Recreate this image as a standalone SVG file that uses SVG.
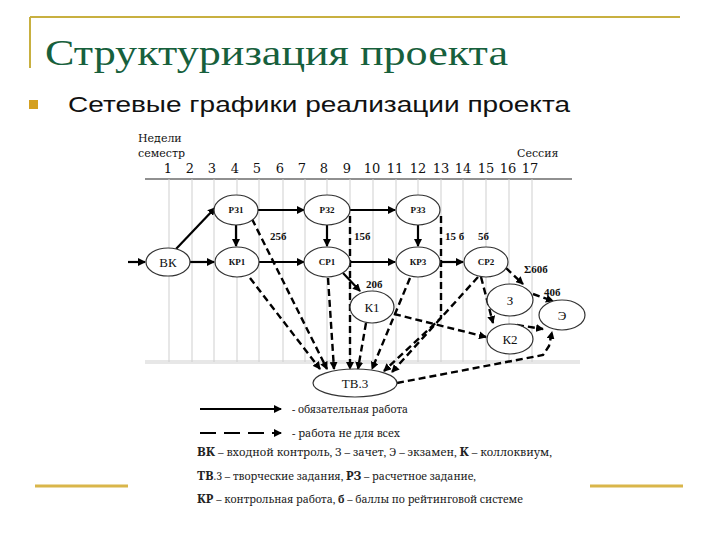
<svg xmlns="http://www.w3.org/2000/svg" width="720" height="540" viewBox="0 0 720 540">
<defs>
<style>
.grid{stroke:#cfcfcf;stroke-width:1}
.e{fill:#fff;stroke:#333;stroke-width:1.2}
.s{fill:none;stroke:#000;stroke-width:2.2}
.d{fill:none;stroke:#000;stroke-width:2.4;stroke-dasharray:7 4}
.t{font-family:"DejaVu Serif",serif;fill:#111}
.nb{font-family:"Liberation Serif",serif;font-weight:bold;font-size:9px;fill:#111}
.nn{font-family:"Liberation Serif",serif;font-size:13px;fill:#111}
.lb{font-family:"Liberation Serif",serif;font-weight:bold;font-size:11px;fill:#111}
.lg{font-family:"Noto Serif","Liberation Serif",serif;font-size:10.5px;fill:#222}
.deco{stroke:#d9b64a;stroke-width:3}
</style>
<marker id="a" markerWidth="8" markerHeight="8" refX="7" refY="4" orient="auto" markerUnits="userSpaceOnUse"><path d="M0,0 L8,4 L0,8 z" fill="#000"/></marker>
</defs>

<g id="frame">
<line x1="30" y1="17" x2="680" y2="17" stroke="#c8b040" stroke-width="2"/>
<line x1="30" y1="17" x2="30" y2="68" stroke="#c8b040" stroke-width="2"/>
<line class="deco" x1="35" y1="486" x2="128" y2="486"/>
<line class="deco" x1="590" y1="486" x2="683" y2="486"/>
</g>

<g id="title">
<text x="45" y="65" style="font-family:'Liberation Serif',serif;font-size:36px" fill="#17603c" textLength="463" lengthAdjust="spacingAndGlyphs">Структуризация проекта</text>
<rect x="29" y="100" width="9" height="9" fill="#d4a020"/>
<text x="68" y="112" font-family="Liberation Sans,Arial,sans-serif" font-size="22" fill="#111" textLength="502" lengthAdjust="spacingAndGlyphs">Сетевые графики реализации проекта</text>
</g>

<g id="scale">
<text class="t" x="138" y="142" font-size="11">Недели</text>
<text class="t" x="138" y="157" font-size="11">семестр</text>
<text class="t" x="517" y="157" font-size="11">Сессия</text>
<g class="t" font-size="13" text-anchor="middle">
<text x="168" y="173">1</text><text x="190" y="173">2</text><text x="212" y="173">3</text><text x="235" y="173">4</text><text x="257" y="173">5</text><text x="280" y="173">6</text><text x="302" y="173">7</text><text x="324" y="173">8</text><text x="347" y="173">9</text><text x="372" y="173">10</text><text x="395" y="173">11</text><text x="418" y="173">12</text><text x="441" y="173">13</text><text x="463" y="173">14</text><text x="486" y="173">15</text><text x="508" y="173">16</text><text x="530" y="173">17</text>
</g>
<line x1="145" y1="179" x2="572" y2="179" stroke="#222" stroke-width="1.2"/>
<g class="grid">
<line x1="169" y1="179" x2="169" y2="362"/><line x1="192" y1="179" x2="192" y2="362"/><line x1="214" y1="179" x2="214" y2="362"/><line x1="237" y1="179" x2="237" y2="362"/><line x1="259" y1="179" x2="259" y2="362"/><line x1="283" y1="179" x2="283" y2="362"/><line x1="305" y1="179" x2="305" y2="362"/><line x1="327" y1="179" x2="327" y2="362"/><line x1="350" y1="179" x2="350" y2="362"/><line x1="373" y1="179" x2="373" y2="362"/><line x1="396" y1="179" x2="396" y2="362"/><line x1="418" y1="179" x2="418" y2="362"/><line x1="441" y1="179" x2="441" y2="362"/><line x1="463" y1="179" x2="463" y2="362"/><line x1="486" y1="179" x2="486" y2="362"/><line x1="509" y1="179" x2="509" y2="362"/><line x1="532" y1="179" x2="532" y2="362"/>
<line x1="145" y1="361" x2="580" y2="361"/><line x1="145" y1="363" x2="580" y2="363"/>
</g>
</g>

<g id="connectors">
<path class="s" marker-end="url(#a)" d="M128,262 L145,262"/>
<path class="s" marker-end="url(#a)" d="M176,249 L215,208"/>
<path class="s" marker-end="url(#a)" d="M190,262 L214,262"/>
<path class="s" marker-end="url(#a)" d="M259,262 L304,262"/>
<path class="s" marker-end="url(#a)" d="M236,225 L236,246"/>
<path class="s" marker-end="url(#a)" d="M258,210 L304,210"/>
<path class="s" marker-end="url(#a)" d="M327,225 L327,246"/>
<path class="s" marker-end="url(#a)" d="M350,210 L395,210"/>
<path class="s" marker-end="url(#a)" d="M350,262 L395,262"/>
<path class="s" marker-end="url(#a)" d="M418,225 L418,246"/>
<path class="s" marker-end="url(#a)" d="M440,262 L463,262"/>
<path class="s" marker-end="url(#a)" d="M343,273 L360,291"/>

<path class="d" marker-end="url(#a)" d="M250,278 L320,369"/>
<path class="d" marker-end="url(#a)" d="M252,219 L327,369"/>
<path class="d" marker-end="url(#a)" d="M328,278 L334,369"/>
<path class="d" marker-end="url(#a)" d="M350,216 L350,369"/>
<path class="d" marker-end="url(#a)" d="M366,323 L358,369"/>
<path class="d" marker-end="url(#a)" d="M410,278 L372,369"/>
<path class="d" marker-end="url(#a)" d="M441,216 L441,318 L384,371"/>
<path class="d" marker-end="url(#a)" d="M478,277 L392,372"/>
<path class="d" marker-end="url(#a)" d="M394,314 L486,337"/>
<path class="d" marker-end="url(#a)" d="M481,277 L493,323"/>
<path class="d" marker-end="url(#a)" d="M506,268 L523,284"/>
<path class="d" marker-end="url(#a)" d="M533,294 L553,301"/>
<path class="d" marker-end="url(#a)" d="M517,325 L543,329"/>
<path class="d" marker-end="url(#a)" d="M397,383 L543,355 L549,346 L552,332"/>
</g>

<g id="labels">
<text class="lb" x="270" y="240">25б</text>
<text class="lb" x="354" y="240">15б</text>
<text class="lb" x="445" y="240">15 б</text>
<text class="lb" x="478" y="240">5б</text>
<text class="lb" x="366" y="288">20б</text>
<text class="lb" x="524" y="273">Σ60б</text>
<text class="lb" x="544" y="296">40б</text>
</g>

<g id="n-vk"><ellipse class="e" cx="168" cy="262" rx="22" ry="14"/><text class="nn" x="168" y="267" text-anchor="middle">ВК</text></g>
<g id="n-rz1"><ellipse class="e" cx="236" cy="210" rx="22" ry="15"/><text class="nb" x="236" y="213" text-anchor="middle">РЗ1</text></g>
<g id="n-rz2"><ellipse class="e" cx="327" cy="210" rx="23" ry="15"/><text class="nb" x="327" y="213" text-anchor="middle">РЗ2</text></g>
<g id="n-rz3"><ellipse class="e" cx="418" cy="210" rx="22" ry="15"/><text class="nb" x="418" y="213" text-anchor="middle">РЗ3</text></g>
<g id="n-kr1"><ellipse class="e" cx="237" cy="262" rx="22" ry="15"/><text class="nb" x="237" y="265" text-anchor="middle">КР1</text></g>
<g id="n-sr1"><ellipse class="e" cx="327" cy="262" rx="23" ry="15"/><text class="nb" x="327" y="265" text-anchor="middle">СР1</text></g>
<g id="n-kr3"><ellipse class="e" cx="418" cy="262" rx="22" ry="15"/><text class="nb" x="418" y="265" text-anchor="middle">КР3</text></g>
<g id="n-sr2"><ellipse class="e" cx="486" cy="262" rx="22" ry="15"/><text class="nb" x="486" y="265" text-anchor="middle">СР2</text></g>
<g id="n-k1"><ellipse class="e" cx="372" cy="307" rx="22" ry="16"/><text class="nn" x="372" y="312" text-anchor="middle">К1</text></g>
<g id="n-z"><ellipse class="e" cx="510" cy="300" rx="23" ry="16"/><text class="nn" x="510" y="305" text-anchor="middle">З</text></g>
<g id="n-k2"><ellipse class="e" cx="510" cy="339" rx="23" ry="15"/><text class="nn" x="510" y="344" text-anchor="middle">К2</text></g>
<g id="n-e"><ellipse class="e" cx="562" cy="315" rx="23" ry="15"/><text class="nn" x="562" y="320" text-anchor="middle">Э</text></g>
<g id="n-tv3"><ellipse class="e" cx="355" cy="383" rx="42" ry="14"/><text class="nn" x="355" y="388" text-anchor="middle">ТВ.3</text></g>

<g id="legend">
<path class="s" marker-end="url(#a)" d="M200,409 L281,409"/>
<text class="lg" x="292" y="413" textLength="116" lengthAdjust="spacingAndGlyphs">- обязательная работа</text>
<path style="fill:none;stroke:#000;stroke-width:2;stroke-dasharray:16 8" marker-end="url(#a)" d="M200,433 L281,433"/>
<text class="lg" x="292" y="437" textLength="108" lengthAdjust="spacingAndGlyphs">- работа не для всех</text>
<text class="lg" x="197" y="456" textLength="355" lengthAdjust="spacingAndGlyphs"><tspan font-weight="bold" font-size="12">ВК</tspan>   – входной контроль, З – зачет, Э – экзамен, <tspan font-weight="bold" font-size="12">К</tspan> – коллоквиум,</text>
<text class="lg" x="197" y="480" textLength="279" lengthAdjust="spacingAndGlyphs"><tspan font-weight="bold" font-size="12">ТВ</tspan>.3 – творческие задания, <tspan font-weight="bold" font-size="12">РЗ</tspan> – расчетное задание,</text>
<text class="lg" x="197" y="503" textLength="326" lengthAdjust="spacingAndGlyphs"><tspan font-weight="bold" font-size="12">КР</tspan> – контрольная работа, <tspan font-weight="bold">б</tspan> – баллы по рейтинговой системе</text>
</g>
</svg>
